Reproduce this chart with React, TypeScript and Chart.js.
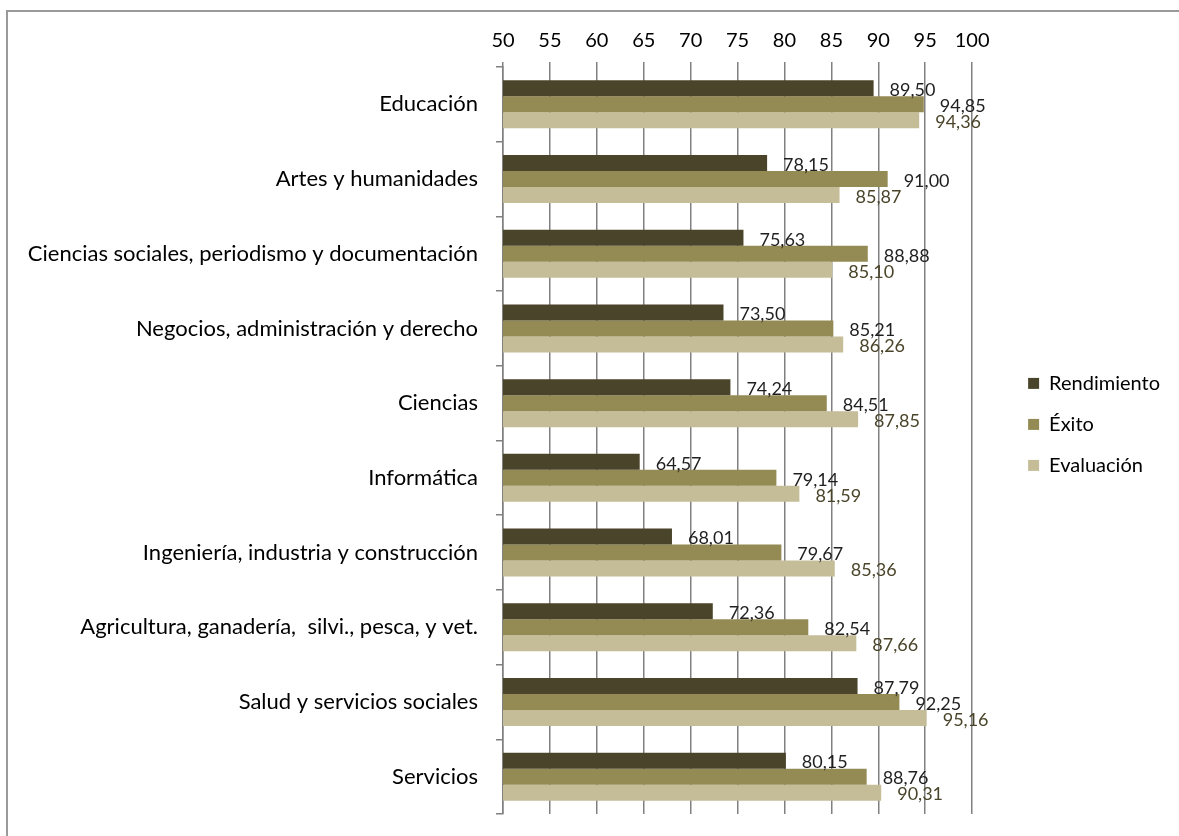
import React, { useEffect, useRef } from "react";
import { Chart, registerables } from "chart.js";

Chart.register(...registerables);

const categories = [
  "Educación",
  "Artes y humanidades",
  "Ciencias sociales, periodismo y documentación",
  "Negocios, administración y derecho",
  "Ciencias",
  "Informática",
  "Ingeniería, industria y construcción",
  "Agricultura, ganadería,  silvi., pesca, y vet.",
  "Salud y servicios sociales",
  "Servicios",
];

const rendimiento = [89.5, 78.15, 75.63, 73.5, 74.24, 64.57, 68.01, 72.36, 87.79, 80.15];
const exito = [94.85, 91.0, 88.88, 85.21, 84.51, 79.14, 79.67, 82.54, 92.25, 88.76];
const evaluacion = [94.36, 85.87, 85.1, 86.26, 87.85, 81.59, 85.36, 87.66, 95.16, 90.31];

const seriesNames = ["Rendimiento", "Éxito", "Evaluación"];
const seriesColors = ["#4a452a", "#948a54", "#c4bd97"];
const labelColors = ["#1f1f1f", "#1f1f1f", "#4a452a"];

const xMin = 50;
const xMax = 100;
const xStep = 5;

const FONT = "Lato";

const valueLabels = {
  id: "valueLabels",
  afterDatasetsDraw(chart: any) {
    const ctx = chart.ctx;
    ctx.save();
    ctx.font = `18px ${FONT}`;
    ctx.textAlign = "left";
    ctx.textBaseline = "middle";
    chart.data.datasets.forEach((ds: any, di: number) => {
      const meta = chart.getDatasetMeta(di);
      meta.data.forEach((el: any, i: number) => {
        const v = ds.data[i] as number;
        ctx.fillStyle = labelColors[di];
        ctx.fillText(v.toFixed(2).replace(".", ","), el.x + 16, el.y + 2);
      });
    });
    ctx.restore();
  },
};

export default function App() {
  const ref = useRef<HTMLCanvasElement | null>(null);

  useEffect(() => {
    if (!ref.current) return;
    const chart = new Chart(ref.current, {
      type: "bar",
      data: {
        labels: categories,
        datasets: [rendimiento, exito, evaluacion].map((d, i) => ({
          label: seriesNames[i],
          data: d,
          backgroundColor: seriesColors[i],
          borderWidth: 0,
          categoryPercentage: 0.643,
          barPercentage: 1,
        })),
      },
      options: {
        indexAxis: "y",
        animation: false,
        responsive: true,
        maintainAspectRatio: false,
        layout: { padding: { top: 0, bottom: 22, left: 0, right: 9 } },
        plugins: {
          legend: {
            position: "right",
            fullSize: true,
            title: {
              display: true,
              text: "",
              padding: 0,
              font: { family: FONT, size: 29, lineHeight: 1.2 },
            },
            labels: {
              boxWidth: 11,
              boxHeight: 11,
              padding: 21,
              color: "#000",
              font: { family: FONT, size: 20 },
            },
          },
          tooltip: { enabled: false },
        },
        scales: {
          x: {
            position: "top",
            min: xMin,
            max: xMax,
            ticks: {
              stepSize: xStep,
              color: "#000",
              padding: 9,
              font: { family: FONT, size: 20 },
            },
            grid: { color: "#808080", lineWidth: 1.5, tickLength: 5 },
            border: { display: false },
            afterFit: (s: any) => {
              s.height = 67;
            },
          },
          y: {
            position: "left",
            ticks: {
              color: "#000",
              padding: 18,
              font: { family: FONT, size: 22 },
            },
            grid: {
              offset: true,
              drawOnChartArea: false,
              color: "#808080",
              lineWidth: 1.5,
              tickLength: 7,
            },
            border: { display: true, color: "#808080", width: 1.5 },
            afterFit: (s: any) => {
              s.width = 503;
              s.paddingTop = 0;
              s.paddingBottom = 0;
            },
          },
          spacer: {
            type: "linear",
            axis: "y",
            position: "right",
            display: true,
            ticks: { display: false },
            grid: { display: false },
            border: { display: false },
            afterFit: (s: any) => {
              s.width = 35;
              s.paddingTop = 0;
              s.paddingBottom = 0;
            },
          },
        },
      },
      plugins: [valueLabels],
    } as any);
    return () => chart.destroy();
  }, []);

  return (
    <div>
      <div
        style={{
          position: "fixed",
          left: 6,
          top: 10,
          right: -20,
          bottom: -20,
          border: "2px solid #9a9a9a",
          boxSizing: "border-box",
        }}
      />
      <div style={{ position: "fixed", left: 0, top: 0, width: 1179, height: 836 }}>
        <canvas ref={ref} />
      </div>
    </div>
  );
}
